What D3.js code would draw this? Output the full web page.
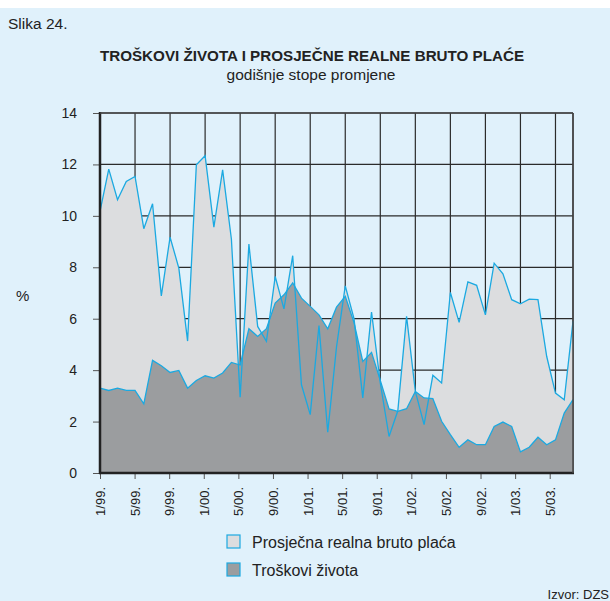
<!DOCTYPE html>
<html>
<head>
<meta charset="utf-8">
<script src="https://cdn.jsdelivr.net/npm/d3@7"></script>
<style>
  body { margin: 0; background: #fff; }
  svg text { font-family: "Liberation Sans", Arial, sans-serif; fill: #222; }
</style>
</head>
<body>
<div id="chart"></div>
<script>
// mjesečni podaci 1/99. - 7/03.
const months = d3.range(0, 55).map(i => {
  const m = i % 12 + 1, y = (99 + Math.floor(i / 12)) % 100;
  return m + "/" + String(y).padStart(2, "0") + ".";
});
const placa = [10.17, 11.82, 10.63, 11.34, 11.53, 9.50, 10.47, 6.89, 9.17, 7.97,
  5.13, 11.99, 12.34, 9.56, 11.79, 9.10, 2.95, 8.90, 5.70, 5.12,
  7.64, 6.38, 8.45, 3.43, 2.27, 5.73, 1.59, 4.90, 7.28, 6.00,
  2.92, 6.26, 3.50, 1.42, 2.42, 6.09, 3.17, 1.88, 3.80, 3.50,
  7.02, 5.86, 7.43, 7.30, 6.15, 8.16, 7.75, 6.74, 6.58, 6.76,
  6.74, 4.53, 3.11, 2.85, 5.90];
const troskovi = [3.30, 3.21, 3.30, 3.21, 3.21, 2.69, 4.38, 4.17, 3.91, 3.99,
  3.30, 3.60, 3.78, 3.69, 3.89, 4.30, 4.20, 5.61, 5.31, 5.61,
  6.61, 6.93, 7.39, 6.80, 6.48, 6.15, 5.61, 6.45, 6.87, 5.85,
  4.34, 4.69, 3.60, 2.49, 2.40, 2.50, 3.17, 2.92, 2.89, 2.01,
  1.49, 1.00, 1.29, 1.10, 1.10, 1.81, 1.98, 1.81, 0.82, 1.00,
  1.39, 1.10, 1.29, 2.33, 2.85];
const yTicks = [0, 2, 4, 6, 8, 10, 12, 14];
const xTicks = d3.range(0, 55, 4);   // svaki 4. mjesec
const legendLabels = ["Prosječna realna bruto plaća", "Troškovi života"];

const width = 610, height = 601;
const m = { left: 100, right: 573, top: 113, bottom: 473 };

const svg = d3.select("#chart").append("svg")
  .attr("width", width)
  .attr("height", height);

svg.append("rect")
  .attr("x", 0).attr("y", 8)
  .attr("width", width).attr("height", height - 8)
  .attr("fill", "#e0f1fb");

let x = d3.scaleLinear().domain([0, 54]).range([m.left, m.right]);
// oznake na osi su u izvorniku malo gušće od mreže
let xLab = d3.scaleLinear().domain([0, 54]).range([m.left, 567]);
let y = d3.scaleLinear().domain([0, 14]).range([m.bottom, m.top]);

// mreža
svg.append("g").selectAll("line")
  .data(yTicks.filter(d => d > 0))
  .enter().append("line")
  .attr("x1", m.left).attr("x2", m.right)
  .attr("y1", d => y(d)).attr("y2", d => y(d))
  .attr("stroke", "#2b2b2b").attr("stroke-width", 1.2);

svg.append("g").selectAll("line")
  .data(xTicks.filter(d => d > 0).concat([54]))
  .enter().append("line")
  .attr("x1", d => x(d)).attr("x2", d => x(d))
  .attr("y1", m.top).attr("y2", m.bottom)
  .attr("stroke", "#2b2b2b").attr("stroke-width", 1.2);

// površine
let area = d3.area().x((d, i) => x(i)).y0(y(0)).y1(d => y(d));
svg.append("path").datum(placa)
  .attr("d", area)
  .attr("fill", "#dcdddf");

svg.append("path").datum(troskovi)
  .attr("d", area)
  .attr("fill", "#9b9d9f");

let line = d3.line().x((d, i) => x(i)).y(d => y(d));
[troskovi, placa].forEach(s => {
  svg.append("path").datum(s)
    .attr("d", line)
    .attr("fill", "none")
    .attr("stroke", "#1ba9e1")
    .attr("stroke-width", 1.3);
});

// osi
let yAxis = d3.axisLeft(y).tickValues(yTicks).tickSize(7).tickPadding(16);
svg.append("g")
  .attr("transform", `translate(${m.left}, 0)`)
  .call(yAxis)
  .call(g => g.select(".domain").remove())
  .call(g => g.selectAll("line").attr("stroke", "#555"))
  .call(g => g.selectAll("text").attr("font-size", 14).attr("font-family", "Liberation Sans").attr("fill", "#222"));

let xAxis = d3.axisBottom(xLab).tickValues(xTicks).tickFormat(i => months[i]).tickSize(6).tickPadding(0);
svg.append("g")
  .attr("transform", `translate(0, ${m.bottom})`)
  .call(xAxis)
  .call(g => g.select(".domain").remove())
  .call(g => g.selectAll("line").attr("stroke", "#555"))
  .call(g => g.selectAll("text")
    .attr("font-size", 13)
    .attr("font-family", "Liberation Sans")
    .attr("fill", "#222")
    .attr("text-anchor", "end")
    .attr("transform", "rotate(-90)")
    .attr("x", -14).attr("y", 0).attr("dy", "0.35em"));

svg.append("line")
  .attr("x1", m.left).attr("x2", m.left).attr("y1", m.top - 1).attr("y2", m.bottom + 1)
  .attr("stroke", "#222").attr("stroke-width", 2.5);
svg.append("line")
  .attr("x1", m.left - 1).attr("x2", m.right + 1).attr("y1", m.bottom).attr("y2", m.bottom)
  .attr("stroke", "#222").attr("stroke-width", 2.5);
svg.append("line")
  .attr("x1", m.left).attr("x2", m.right).attr("y1", m.top).attr("y2", m.top)
  .attr("stroke", "#444").attr("stroke-width", 1.5);
svg.append("line")
  .attr("x1", m.right).attr("x2", m.right).attr("y1", m.top).attr("y2", m.bottom)
  .attr("stroke", "#444").attr("stroke-width", 1.5);

// naslovi
svg.append("text").attr("x", 8).attr("y", 29).attr("font-size", 15.5).text("Slika 24.");
svg.append("text").attr("x", 312).attr("y", 61)
  .attr("text-anchor", "middle").attr("font-size", 15.2).attr("font-weight", "bold")
  .text("TROŠKOVI ŽIVOTA I PROSJEČNE REALNE BRUTO PLAĆE");
svg.append("text").attr("x", 311).attr("y", 80)
  .attr("text-anchor", "middle").attr("font-size", 15.5)
  .text("godišnje stope promjene");
svg.append("text").attr("x", 16).attr("y", 301).attr("font-size", 15).text("%");

// legenda
let legend = svg.append("g");
legendLabels.forEach((l, i) => {
  legend.append("rect")
    .attr("x", 227).attr("y", 535 + i * 28)
    .attr("width", 13).attr("height", 13)
    .attr("fill", i == 0 ? "#dcdddf" : "#9b9d9f")
    .attr("stroke", "#1ba9e1").attr("stroke-width", 1.2);
  legend.append("text")
    .attr("x", 252).attr("y", 548 + i * 28)
    .attr("font-size", 16)
    .text(l);
});

svg.append("text").attr("x", 609).attr("y", 599)
  .attr("text-anchor", "end").attr("font-size", 13).text("Izvor: DZS");
</script>
</body>
</html>
